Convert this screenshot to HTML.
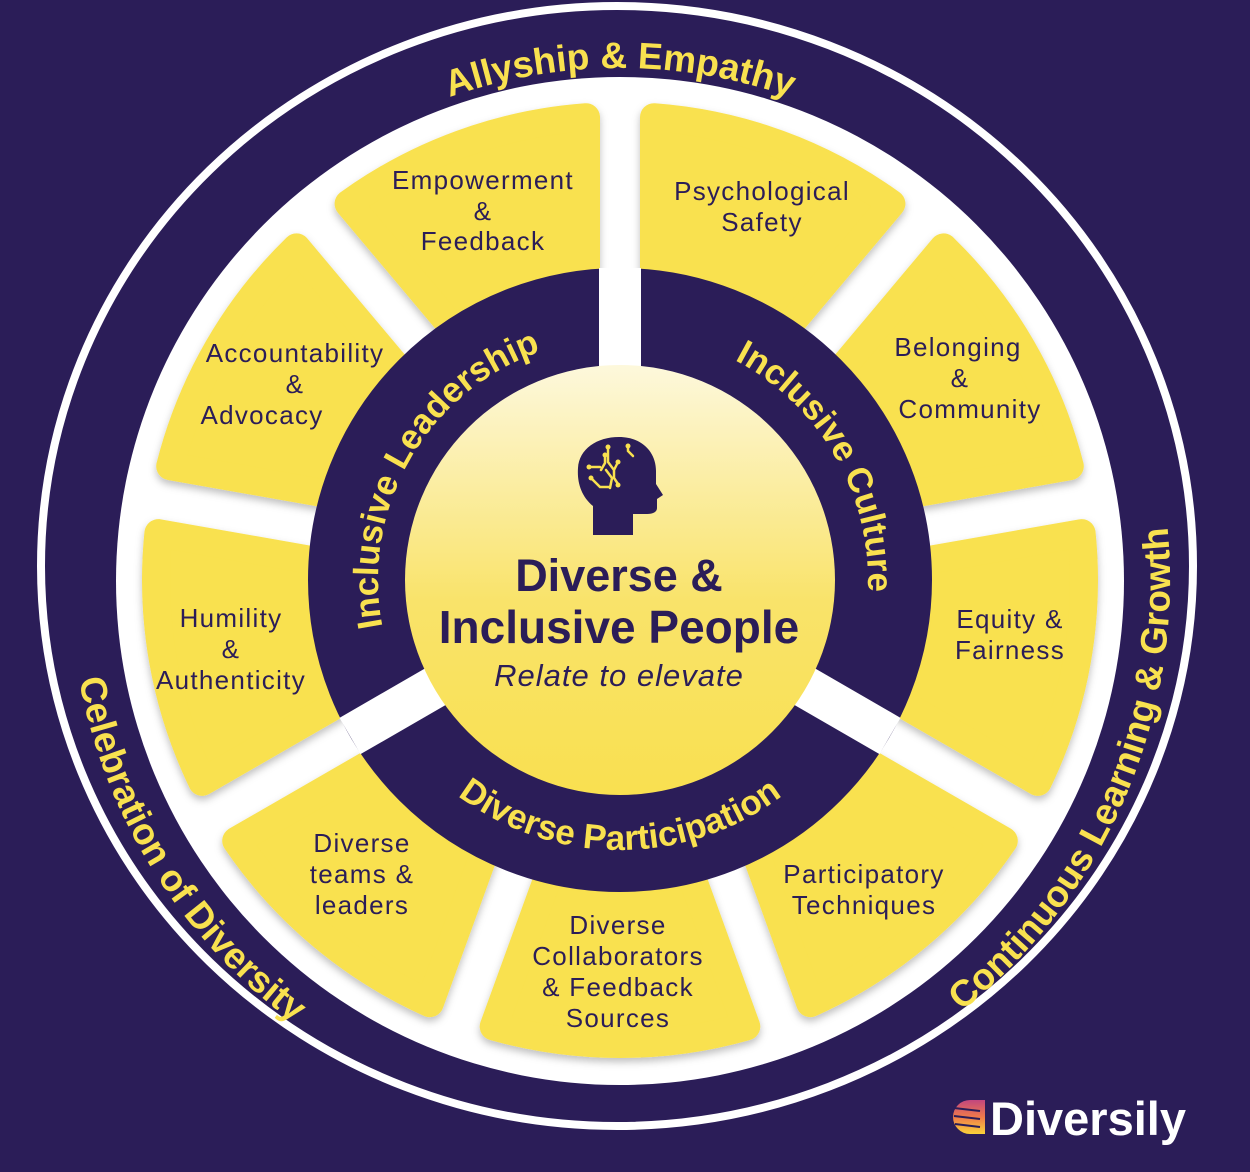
<!DOCTYPE html>
<html><head><meta charset="utf-8">
<style>
html,body{margin:0;padding:0;background:#2b1d58;}
svg{display:block;}
.pl{font-family:"Liberation Sans",sans-serif;font-size:26px;letter-spacing:1.3px;fill:#2b1d58;text-anchor:middle;}
.ot{font-family:"Liberation Sans",sans-serif;font-weight:bold;font-size:37px;fill:#f9e14f;}
.it{font-family:"Liberation Sans",sans-serif;font-weight:bold;font-size:35px;fill:#f9e14f;}
</style></head>
<body>
<svg id="s" width="1250" height="1172" viewBox="0 0 1250 1172" xmlns="http://www.w3.org/2000/svg">
<defs>
<linearGradient id="cg" x1="0" y1="0" x2="0" y2="1">
<stop offset="0" stop-color="#fdf8dc"/>
<stop offset="0.55" stop-color="#f9e36a"/>
<stop offset="1" stop-color="#f9e050"/>
</linearGradient>
<filter id="sh" x="-20%" y="-20%" width="140%" height="140%">
<feDropShadow dx="0" dy="4" stdDeviation="4" flood-color="#000" flood-opacity="0.25"/>
</filter>
<path id="topP" d="M 108,580 A 512,512 0 0 1 1132,580"/>
<path id="ccwP" d="M 620,30 A 550,550 0 1 0 620.01,30"/>
<path id="ilP" d="M 620,822 A 242,242 0 1 1 620.01,822"/>
<path id="icP" d="M 620,332 A 248,248 0 1 1 619.99,332"/>
<path id="dpP" d="M 620,310 A 270,270 0 1 0 620.01,310"/>
</defs>
<rect width="1250" height="1172" fill="#2b1d58"/>
<ellipse cx="617" cy="566" rx="576" ry="560" fill="none" stroke="#fff" stroke-width="8"/>
<circle cx="620" cy="581" r="504" fill="#fff"/>
<g id="petals" fill="#f9e14f" stroke="#f9e14f" stroke-width="28" stroke-linejoin="round" filter="url(#sh)"></g>
<circle cx="620" cy="580" r="263" fill="none" stroke="#2b1d58" stroke-width="98"/>
<g stroke="#fff" stroke-width="42">
<line x1="620" y1="580" x2="620" y2="268"/>
<line x1="620" y1="580" x2="890" y2="736"/>
<line x1="620" y1="580" x2="350" y2="736"/>
</g>
<circle cx="620" cy="580" r="215" fill="url(#cg)"/>
<!-- head icon -->
<path d="M593,535 L593,506 C581,496 577,482 578,468 C579,449 597,437 619,437 C642,437 656,452 656,471 L656,484 L663,495 L657,499 L657,508 C657,512 653,514 647,514 L633,514 L633,535 Z" fill="#2b1d58"/>
<g stroke="#f9e14f" stroke-width="2.5" fill="none" stroke-linecap="round">
<path d="M605,455 L605,463 L601,470 M589,467 L600,467 M606,470 L612,478 L610,488 M591,478 L600,487 L609,487 M608,447 L608,462 L614,470 L614,478 L618,484 M614,470 L618,462 M628,446 L628,451 L633,456"/>
</g>
<g fill="#f9e14f"><circle cx="605" cy="455" r="2.5"/><circle cx="589" cy="467" r="2.5"/><circle cx="591" cy="478" r="2.5"/><circle cx="608" cy="447" r="2.5"/><circle cx="618" cy="462" r="2.5"/><circle cx="618" cy="485" r="2.5"/><circle cx="628" cy="446" r="2.5"/></g>
<g font-family="'Liberation Sans',sans-serif" fill="#2b1d58" text-anchor="middle">
<text x="619" y="591" font-size="45" font-weight="bold">Diverse &amp;</text>
<text x="619" y="643" font-size="46" font-weight="bold">Inclusive People</text>
<text x="619" y="686" font-size="31" font-style="italic" letter-spacing="1">Relate to elevate</text>
</g>
<!-- curved labels -->
<text class="ot"><textPath href="#topP" startOffset="50%" text-anchor="middle">Allyship &amp; Empathy</textPath></text>
<text class="ot"><textPath href="#ccwP" startOffset="33.9%" text-anchor="middle">Celebration of Diversity</textPath></text>
<text class="ot"><textPath href="#ccwP" startOffset="68.6%" text-anchor="middle">Continuous Learning &amp; Growth</textPath></text>
<text class="it"><textPath href="#ilP" startOffset="33.3%" text-anchor="middle">Inclusive Leadership</textPath></text>
<text class="it"><textPath href="#icP" startOffset="16.7%" text-anchor="middle">Inclusive Culture</textPath></text>
<text class="it"><textPath href="#dpP" startOffset="50%" text-anchor="middle">Diverse Participation</textPath></text>
<!-- petal labels -->
<g class="pl">
<text class="pl" x="483" y="189">Empowerment</text><text class="pl" x="483" y="220">&amp;</text><text class="pl" x="483" y="250">Feedback</text>
<text class="pl" x="762" y="200">Psychological</text><text class="pl" x="762" y="231">Safety</text>
<text class="pl" x="295" y="362">Accountability</text><text class="pl" x="295" y="393">&amp;</text><text class="pl" x="262" y="424">Advocacy</text>
<text class="pl" x="958" y="356">Belonging</text><text class="pl" x="960" y="387">&amp;</text><text class="pl" x="970" y="418">Community</text>
<text class="pl" x="231" y="627">Humility</text><text class="pl" x="231" y="658">&amp;</text><text class="pl" x="231" y="689">Authenticity</text>
<text class="pl" x="1010" y="628">Equity &amp;</text><text class="pl" x="1010" y="659">Fairness</text>
<text class="pl" x="362" y="852">Diverse</text><text class="pl" x="362" y="883">teams &amp;</text><text class="pl" x="362" y="914">leaders</text>
<text class="pl" x="618" y="934">Diverse</text><text class="pl" x="618" y="965">Collaborators</text><text class="pl" x="618" y="996">&amp; Feedback</text><text class="pl" x="618" y="1027">Sources</text>
<text class="pl" x="864" y="883">Participatory</text><text class="pl" x="864" y="914">Techniques</text>
</g>
<!-- logo -->
<defs><linearGradient id="lg" x1="0" y1="0" x2="0" y2="1"><stop offset="0" stop-color="#c2477f"/><stop offset="0.5" stop-color="#f07a4a"/><stop offset="1" stop-color="#f9d23a"/></linearGradient></defs>
<path d="M970,1100 A17,17 0 0 0 970,1134 L985,1134 L985,1100 Z" fill="url(#lg)"/>
<g stroke="#2b1d58" stroke-width="2"><line x1="954" y1="1108" x2="980" y2="1111"/><line x1="954" y1="1116" x2="980" y2="1119"/><line x1="955" y1="1124" x2="980" y2="1127"/></g>
<text x="990" y="1135" font-family="'Liberation Sans',sans-serif" font-weight="bold" font-size="47" fill="#fff">Diversily</text>
</svg>
<script>
(function(){
var cx=620,cy=580,g=document.getElementById('petals');
function pt(r,a){var t=a*Math.PI/180;return (cx+r*Math.sin(t)).toFixed(1)+','+(cy-r*Math.cos(t)).toFixed(1);}
var ri=300,ro=464,h=34;
var di=Math.asin(h/ri)*180/Math.PI,dout=Math.asin(h/ro)*180/Math.PI;
for(var i=0;i<9;i++){
 var a1=i*40,a2=a1+40;
 var d='M'+pt(ri,a1+di)+' L'+pt(ro,a1+dout)+' A'+ro+','+ro+' 0 0 1 '+pt(ro,a2-dout)+' L'+pt(ri,a2-di)+' A'+ri+','+ri+' 0 0 0 '+pt(ri,a1+di)+' Z';
 var p=document.createElementNS('http://www.w3.org/2000/svg','path');p.setAttribute('d',d);g.appendChild(p);
}
})();
</script>
</body></html>
